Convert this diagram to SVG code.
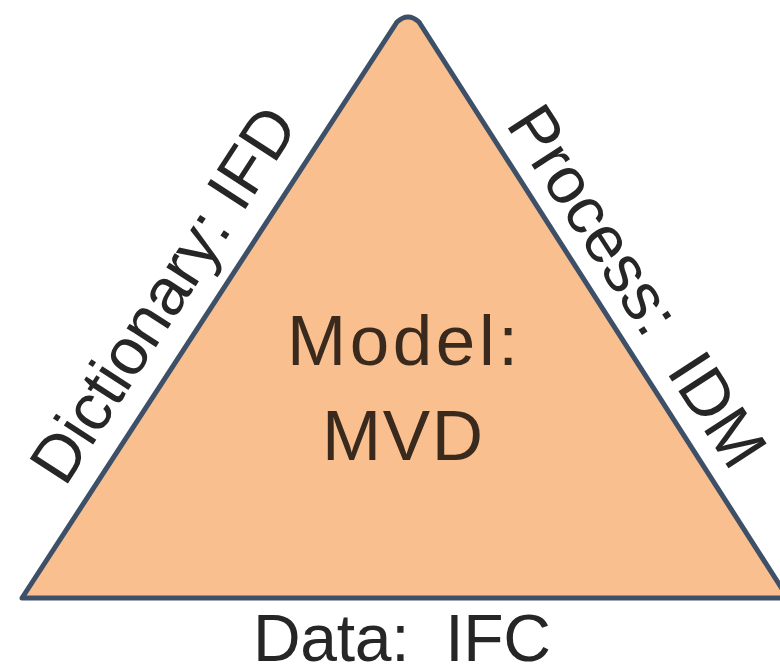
<svg xmlns="http://www.w3.org/2000/svg" width="780" height="668" viewBox="0 0 780 668">
  <style>
    .lbl { font-family: "Liberation Sans", Arial, sans-serif; font-size: 66px; fill: #262626; }
    .inner { font-family: "Liberation Sans", Arial, sans-serif; font-size: 71px; fill: #3a2a1e; }
    .tri { fill: #F9BF8F; stroke: #3E5068; stroke-width: 5; stroke-linejoin: round; }
  </style>
  <rect width="780" height="668" fill="#ffffff"/>
  <g id="triangle">
    <path class="tri" d="M 22,598 L 397,22 Q 408,12 419,22 L 788,598 Z"/>
  </g>
  <g id="connectors"></g>
  <g id="model">
    <text class="inner" x="287" y="365" textLength="231" lengthAdjust="spacing">Model:</text>
    <text class="inner" x="322" y="460" textLength="161" lengthAdjust="spacing">MVD</text>
  </g>
  <g id="dictionary">
    <text class="lbl" transform="translate(65,488) rotate(-57.1)" x="0" y="0" textLength="432" lengthAdjust="spacing">Dictionary: IFD</text>
  </g>
  <g id="process">
    <text class="lbl" xml:space="preserve" transform="translate(505,124) rotate(57)" x="0" y="0" textLength="416" lengthAdjust="spacing">Process:  IDM</text>
  </g>
  <g id="data">
    <text class="lbl" xml:space="preserve" x="253" y="661" textLength="298" lengthAdjust="spacing">Data:  IFC</text>
  </g>
</svg>
